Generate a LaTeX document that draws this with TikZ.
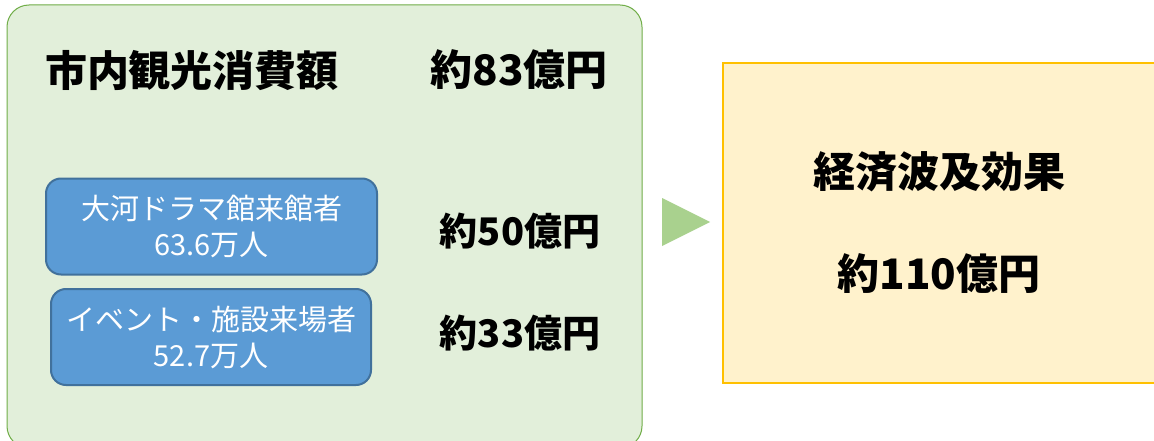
\documentclass[tikz,border=0pt]{standalone}
\usepackage{fontspec}
\setmainfont{Noto Sans CJK JP}
\definecolor{panelgreen}{HTML}{E2EFDA}
\definecolor{panelline}{HTML}{70AD47}
\definecolor{boxblue}{HTML}{5B9BD5}
\definecolor{boxline}{HTML}{41719C}
\definecolor{effectyellow}{HTML}{FFF2CC}
\definecolor{effectline}{HTML}{FFC000}
\definecolor{pointergreen}{HTML}{A9D18E}

\begin{document}
\begin{tikzpicture}[x=1pt,y=-1pt,
    panel/.style={draw=panelline, fill=panelgreen, line width=1pt, rounded corners=22pt},
    visitbox/.style={draw=boxline, fill=boxblue, line width=2pt, rounded corners=15pt,
      minimum height=96pt, text=white, align=center, inner sep=0pt,
      font=\fontsize{29}{36}\selectfont},
    effectbox/.style={draw=effectline, fill=effectyellow, line width=1.2pt,
      minimum width=432pt, minimum height=320pt, align=center, inner sep=0pt,
      font=\bfseries\fontsize{42}{102}\selectfont},
    bigtext/.style={font=\bfseries\fontsize{42}{50}\selectfont, inner sep=0pt},
    midtext/.style={font=\bfseries\fontsize{38}{46}\selectfont, inner sep=0pt}]
    \path [use as bounding box, clip] (0,0) rectangle (1154,441);
    \fill [white] (0,0) rectangle (1154,441);
    % left panel
    \draw [panel] (7,5) rectangle (642,448);
    \node [bigtext] (title) at (192,71) {市内観光消費額};
    \node [bigtext] (total) at (519,70) {約83億円};
    \node [visitbox, minimum width=331pt] (drama) at (211.5,226.5) {大河ドラマ館来館者\\63.6万人};
    \node [visitbox, minimum width=320pt] (event) at (211,337) {イベント・施設来場者\\52.7万人};
    \node [midtext] (dramaamount) at (520,231) {約50億円};
    \node [midtext] (eventamount) at (520,333) {約33億円};
    % pointer
    \fill [pointergreen] (662,198) -- (710,222) -- (662,246) -- cycle;
    % right box
    \node [effectbox] (effect) at (939,223) {経済波及効果\\約110億円};
  \end{tikzpicture}
\end{document}
